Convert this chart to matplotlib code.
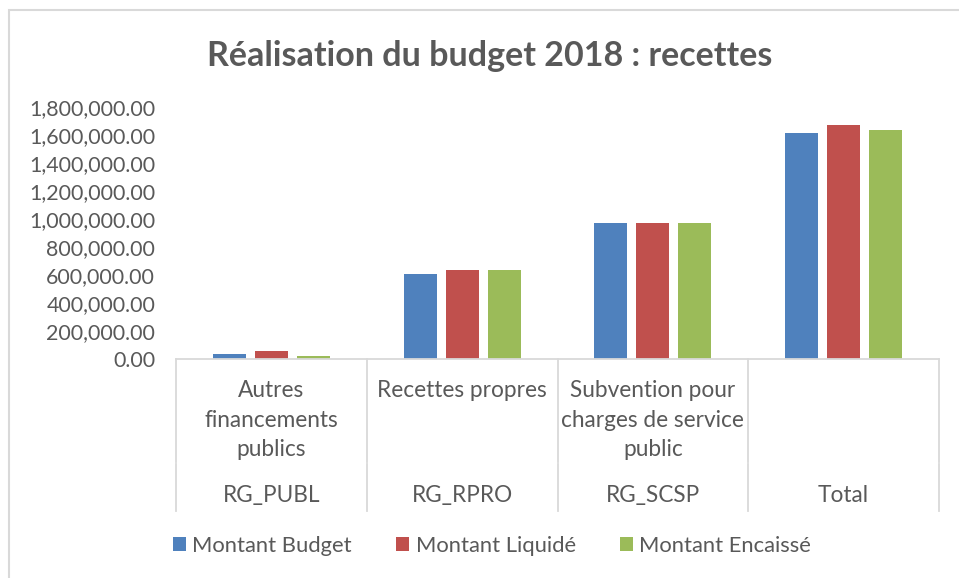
import matplotlib
matplotlib.use('Agg')
import matplotlib.pyplot as plt
import matplotlib.transforms as mtransforms
from matplotlib.patches import Rectangle
from matplotlib.ticker import FuncFormatter
import numpy as np

plt.rcParams['font.family'] = ['Lato', 'DejaVu Sans']

# données
codes = ['RG_PUBL', 'RG_RPRO', 'RG_SCSP', 'Total']
libelles = ['Autres\nfinancements\npublics', 'Recettes propres',
            'Subvention pour\ncharges de service\npublic', '']
series = ['Montant Budget', 'Montant Liquidé', 'Montant Encaissé']
montant_budget = [35000, 605000, 970000, 1615000]
montant_liquide = [60000, 637000, 970000, 1672000]
montant_encaisse = [25000, 637000, 970000, 1637000]
couleurs = ['#4F81BD', '#C0504D', '#9BBB59']

texte = '#595959'
trait = '#D9D9D9'

W, H = 959, 578
fig = plt.figure(figsize=(W / 100, H / 100), dpi=100)
ax = fig.add_axes([176 / W, 1 - 359 / H, (939 - 176) / W, (359 - 107) / H])

x = np.arange(len(codes))
larg = 0.173
pas = 0.22
for k, (vals, nom) in enumerate(zip([montant_budget, montant_liquide, montant_encaisse], series)):
    ax.bar(x + (k - 1) * pas, vals, width=larg, color=couleurs[k], label=nom, zorder=2)

ax.set_xlim(-0.5, len(codes) - 0.5)
ax.set_ylim(0, 1800000)
ax.set_yticks(np.arange(0, 1800001, 200000))
ax.yaxis.set_major_formatter(FuncFormatter(lambda v, p: f'{v:,.2f}'))
ax.tick_params(axis='y', length=0, pad=15, labelsize=15.4, labelcolor=texte)

for s in ['top', 'right', 'left']:
    ax.spines[s].set_visible(False)
ax.spines['bottom'].set_color(trait)
ax.spines['bottom'].set_linewidth(1.3)

# axe des catégories à deux niveaux
ax.set_xticks([])
trans = mtransforms.blended_transform_factory(ax.transData, ax.transAxes)
for b in np.arange(-0.5, len(codes), 1.0):
    ax.plot([b, b], [0, -0.41], color=trait, lw=1.3, transform=trans, clip_on=False)
    ax.plot([b, b], [-0.415, -0.605], color=trait, lw=1.3, transform=trans, clip_on=False)
for i in range(len(codes)):
    ax.text(i, -0.085, libelles[i], transform=trans, ha='center', va='top',
            fontsize=16.3, color=texte, linespacing=1.5)
    ax.text(i, -0.54, codes[i], transform=trans, ha='center', va='center',
            fontsize=16.3, color=texte)

fig.text(490 / W, 1 - 56 / H, 'Réalisation du budget 2018 : recettes', ha='center', va='center',
         fontsize=24.5, fontweight='bold', color=texte)

leg = fig.legend(loc='center', bbox_to_anchor=(492 / W, 1 - 546 / H), ncol=3, frameon=False,
                 fontsize=15.8, handlelength=0.6, handleheight=0.6, handletextpad=0.3,
                 columnspacing=2.0)
for t in leg.get_texts():
    t.set_color(texte)

# cadre du graphique
fig.patches.append(Rectangle((8.5 / W, -0.1), 2, (H - 9.5) / H + 0.1, transform=fig.transFigure,
                             fill=False, edgecolor=trait, lw=1.5))

fig.savefig('out.png', dpi=100, facecolor='white')
